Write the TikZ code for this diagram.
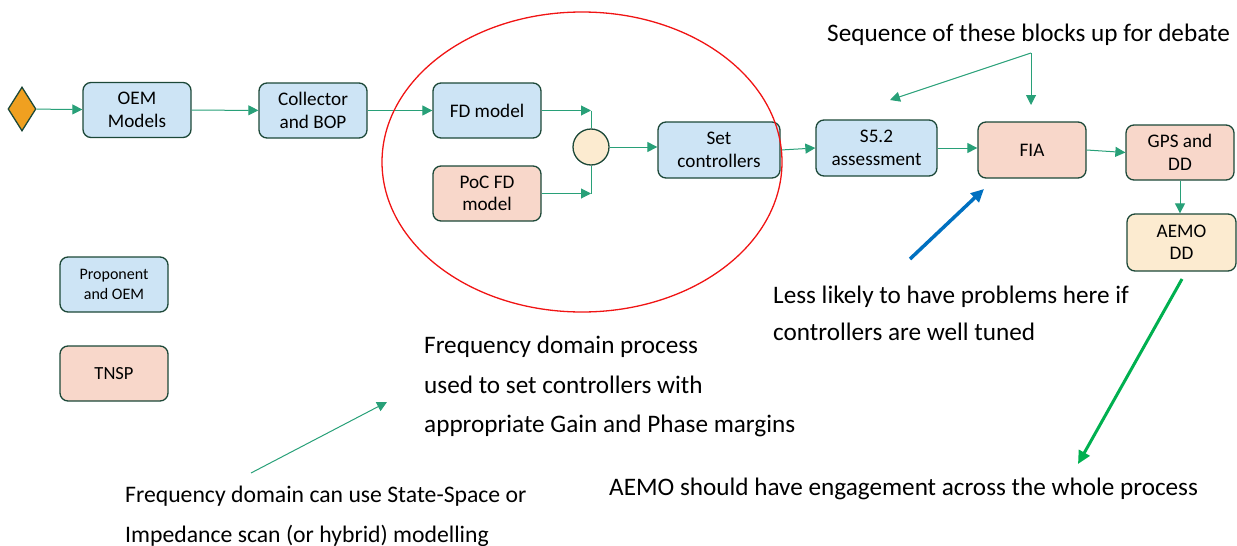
\documentclass[tikz,border=0pt]{standalone}
\usepackage{fontspec}
\setmainfont{Carlito}
\usetikzlibrary{arrows.meta,shapes.geometric}
\definecolor{boxblue}{RGB}{205,228,245}
\definecolor{boxpink}{RGB}{248,215,202}
\definecolor{boxcream}{RGB}{252,235,208}
\definecolor{edgegreen}{RGB}{28,72,56}
\definecolor{flow}{RGB}{40,160,120}
\definecolor{diamondorange}{RGB}{240,160,32}
\definecolor{ringred}{RGB}{240,20,20}
\definecolor{noteblue}{RGB}{0,112,192}
\definecolor{notegreen}{RGB}{0,176,80}
\begin{document}
\begin{tikzpicture}[x=1pt,y=-1pt,
  procbox/.style={draw=edgegreen, line width=1.3pt, rounded corners=8pt, align=center,
    inner sep=2pt, minimum width=108pt, minimum height=55pt,
    font=\fontsize{19.2}{22.5}\selectfont, text=black},
  bluebox/.style={procbox, fill=boxblue},
  pinkbox/.style={procbox, fill=boxpink},
  creambox/.style={procbox, fill=boxcream},
  flowline/.style={draw=flow, line width=1pt, -{Triangle[length=10pt,width=10pt]}},
  flowplain/.style={draw=flow, line width=1pt},
  note/.style={anchor=base west, font=\fontsize{25.2}{30}\selectfont, inner sep=0pt, text=black},
  smallnote/.style={note, font=\fontsize{23.7}{30}\selectfont},
  bignote/.style={line width=3.5pt, -{Triangle[length=13pt,width=12pt]}}
]
\useasboundingbox (0,0) rectangle (1237,546);

% process nodes
\node[diamond, draw=edgegreen, fill=diamondorange, line width=1.3pt, minimum width=28pt,
      minimum height=44pt, inner sep=0pt] (start) at (22,109) {};
\node[bluebox] (oem) at (137,110) {OEM\\Models};
\node[bluebox] (col) at (313,110.5) {Collector\\and BOP};
\node[bluebox] (fd) at (487,110.5) {FD model};
\node[pinkbox] (poc) at (487,193.5) {PoC FD\\model};
\node[circle, draw=edgegreen, fill=boxcream, line width=1.3pt, minimum size=36pt, inner sep=0pt] (junc) at (591,147) {};
\node[bluebox, minimum width=122pt, minimum height=56pt] (set) at (719,150) {Set\\controllers};
\node[bluebox, minimum width=121pt, minimum height=56pt] (s52) at (876.5,148) {S5.2\\assessment};
\node[pinkbox, minimum height=56pt] (fia) at (1032,150) {FIA};
\node[pinkbox] (gps) at (1180,152.5) {GPS and\\DD};
\node[creambox, minimum width=109pt, minimum height=57pt] (aemo) at (1181.5,242.5) {AEMO\\DD};

% legend
\node[bluebox, font=\fontsize{16}{20}\selectfont] (legprop) at (114,284.5) {Proponent\\and OEM};
\node[pinkbox, font=\fontsize{18.5}{21}\selectfont] (legtnsp) at (114,373.5) {TNSP};

% flow connectors
\draw[flowline] (start) -- (oem);
\draw[flowline] (oem) -- (col);
\draw[flowline] (col) -- (fd);
\draw[flowline] (fd.east) -- (fd.east -| junc.north);
\draw[flowplain] (fd.east -| junc.north) -- (junc.north);
\draw[flowline] (poc.east) -- (poc.east -| junc.south);
\draw[flowplain] (poc.east -| junc.south) -- (junc.south);
\draw[flowline] (junc.east) -- (junc.east -| set.west);
\draw[flowline] (set.east) -- (s52.west);
\draw[flowline] (s52.east) -- (s52.east -| fia.west);
\draw[flowline] (fia.east) -- (gps.west);
\draw[flowline] (gps.south) -- (gps.south |- aemo.north);

% notes
\node[note] (seqtxt) at (827,41) {Sequence of these blocks up for debate};
\coordinate (seqfork) at (1031,53);
\coordinate (seqtos) at (890,100);
\coordinate (seqtof) at (1031,105);
\draw[flowline] (seqfork) -- (seqtos);
\draw[flowline] (seqfork) -- (seqtof);

\node[note] (less1) at (773,303) {Less likely to have problems here if};
\node[note] (less2) at (773,340) {controllers are well tuned};
\coordinate (bluetail) at (910,259);
\coordinate (bluehead) at (984,189);
\draw[bignote, noteblue] (bluetail) -- (bluehead);

\node[note] (fdp1) at (424,353) {Frequency domain process};
\node[note] (fdp2) at (424,393) {used to set controllers with};
\node[note] (fdp3) at (424,432) {appropriate Gain and Phase margins};

\coordinate (tealtail) at (251,473);
\coordinate (tealhead) at (387,402);
\draw[flowline] (tealtail) -- (tealhead);
\node[smallnote] (fdc1) at (125,502) {Frequency domain can use State-Space or};
\node[smallnote] (fdc2) at (125,542) {Impedance scan (or hybrid) modelling};

\coordinate (greentail) at (1182,279);
\coordinate (greenhead) at (1078,464);
\draw[bignote, notegreen, line width=3pt] (greentail) -- (greenhead);
\node[note] (aemotxt) at (609,495) {AEMO should have engagement across the whole process};

% red ellipse on top
\draw[ringred, line width=1.3pt] (582,162) ellipse [x radius=200, y radius=150];
\end{tikzpicture}
\end{document}
